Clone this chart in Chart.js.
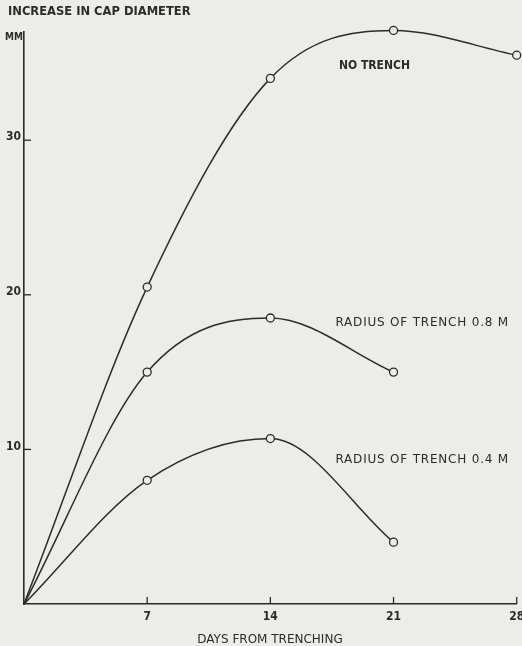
<!DOCTYPE html>
<html>
<head>
<meta charset="utf-8">
<script src="https://cdn.jsdelivr.net/npm/chart.js@4"></script>
<style>
  html, body { margin: 0; padding: 0; background: #ececea; }
  canvas { display: block; }
</style>
</head>
<body>
<canvas id="chart" width="522" height="646"></canvas>
<script>
// days from trenching
const days = [0, 7, 14, 21, 28]
// increase in cap diameter, mm
const noTrench = [0, 20.5, 34.0, 37.1, 35.5]
const trench08 = [0, 15.0, 18.5, 15.0]
const trench04 = [0, 8.0, 10.7, 4.0]
const xTicks = [7, 14, 21, 28]
const yTicks = [10, 20, 30]

const ink = '#2b2b2b'
const paper = '#ececea'
const font = '"DejaVu Sans Condensed", "Liberation Sans Narrow", "DejaVu Sans", sans-serif'
const wide = '"DejaVu Sans", sans-serif'

function toPoints(vals) {
    return vals.map((v, i) => ({x: days[i], y: v}))
}

function series(vals) {
    return {
        data: toPoints(vals),
        borderColor: ink,
        borderWidth: 1.5,
        backgroundColor: paper,
        pointBackgroundColor: paper,
        pointBorderColor: ink,
        pointBorderWidth: 1.3,
        pointRadius: vals.map((v, i) => i == 0 ? 0 : 4),
        cubicInterpolationMode: 'monotone',
        clip: false
    }
}

// inward ticks + free text
const decor = {
    id: 'decor',
    afterDraw(c) {
        const ctx = c.ctx
        const x = c.scales.x
        const y = c.scales.y
        const area = c.chartArea
        ctx.save()
        ctx.strokeStyle = ink
        ctx.lineWidth = 1.3
        xTicks.forEach(t => {
            const px = x.getPixelForValue(t)
            ctx.beginPath(); ctx.moveTo(px, area.bottom); ctx.lineTo(px, area.bottom - 7); ctx.stroke()
        })
        yTicks.forEach(t => {
            const py = y.getPixelForValue(t)
            ctx.beginPath(); ctx.moveTo(area.left, py); ctx.lineTo(area.left + 7, py); ctx.stroke()
        })

        ctx.fillStyle = ink
        ctx.textBaseline = 'middle'
        ctx.textAlign = 'left'
        ctx.font = 'bold 12.8px ' + font
        ctx.fillText('INCREASE IN CAP DIAMETER', 8, 12)
        ctx.font = 'bold 10px ' + font
        ctx.fillText('MM', 5, 37)
        ctx.font = 'bold 12px ' + font
        ctx.fillText('NO TRENCH', x.getPixelForValue(17.9), y.getPixelForValue(34.8))
        ctx.font = '12px ' + wide
        ctx.letterSpacing = '0.8px'
        ctx.fillText('RADIUS OF TRENCH 0.8 M', x.getPixelForValue(17.7), y.getPixelForValue(18.2))
        ctx.fillText('RADIUS OF TRENCH 0.4 M', x.getPixelForValue(17.7), y.getPixelForValue(9.3))
        ctx.letterSpacing = '0px'
        ctx.textAlign = 'center'
        ctx.fillText('DAYS FROM TRENCHING', 270, 640)
        ctx.restore()
    }
}

const chart = new Chart(document.querySelector('#chart'), {
    type: 'line',
    data: {
        datasets: [series(noTrench), series(trench08), series(trench04)]
    },
    options: {
        responsive: false,
        animation: false,
        layout: {padding: {top: 32, right: 5, left: 0, bottom: 0}},
        plugins: {legend: {display: false}, tooltip: {enabled: false}},
        scales: {
            x: {
                type: 'linear',
                min: 0,
                max: 28,
                afterFit: s => { s.height = 42; s.paddingRight = 0; s.paddingLeft = 0 },
                afterBuildTicks: s => { s.ticks = xTicks.map(v => ({value: v})) },
                grid: {display: false, drawTicks: false},
                border: {display: true, color: ink, width: 1.6},
                ticks: {color: ink, padding: 6, font: {family: font, size: 12, weight: 'bold'}}
            },
            y: {
                min: 0,
                max: 37,
                afterFit: s => { s.width = 24; s.paddingTop = 0; s.paddingBottom = 0 },
                afterBuildTicks: s => { s.ticks = yTicks.map(v => ({value: v})) },
                grid: {display: false, drawTicks: false},
                border: {display: true, color: ink, width: 1.6},
                ticks: {color: ink, padding: 3, labelOffset: -3, font: {family: font, size: 12, weight: 'bold'}}
            }
        }
    },
    plugins: [decor]
})
</script>
</body>
</html>
